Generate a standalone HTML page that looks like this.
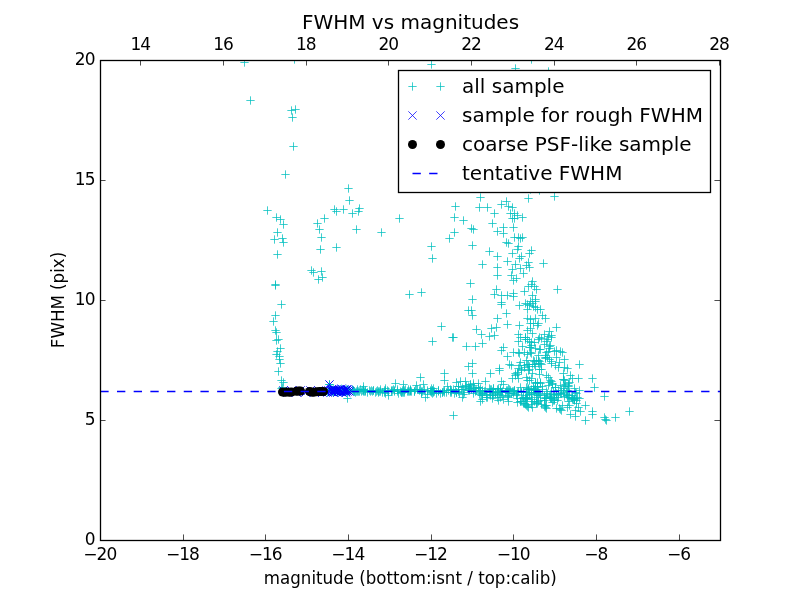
<!DOCTYPE html>
<html><head><meta charset="utf-8"><title>FWHM vs magnitudes</title>
<style>html,body{margin:0;padding:0;background:#fff;width:800px;height:600px;overflow:hidden}svg{display:block;will-change:transform}</style>
</head><body>
<svg width="800" height="600" viewBox="0 0 800 600"><rect x="0" y="0" width="800" height="600" fill="#fff"/><defs><clipPath id="ax"><rect x="100" y="60" width="620" height="480"/></clipPath></defs><g clip-path="url(#ax)"><path d="M240.34 62.50h8.33M244.50 58.34v8.33M290.33 59.50h8.33M294.50 55.34v8.33M246.34 100.50h8.33M250.50 96.33v8.33M287.33 110.50h8.33M291.50 106.33v8.33M291.33 109.50h8.33M295.50 105.33v8.33M288.33 117.50h8.33M292.50 113.33v8.33M289.33 146.50h8.33M293.50 142.34v8.33M281.33 174.50h8.33M285.50 170.34v8.33M344.33 188.50h8.33M348.50 184.34v8.33M345.33 200.50h8.33M349.50 196.34v8.33M427.33 64.50h8.33M431.50 60.34v8.33M263.33 210.50h8.33M267.50 206.34v8.33M272.33 217.50h8.33M276.50 213.34v8.33M276.33 219.50h8.33M280.50 215.34v8.33M279.33 224.50h8.33M283.50 220.34v8.33M273.33 232.50h8.33M277.50 228.34v8.33M270.33 239.50h8.33M274.50 235.34v8.33M278.33 238.50h8.33M282.50 234.34v8.33M279.33 242.50h8.33M283.50 238.34v8.33M273.33 254.50h8.33M277.50 250.34v8.33M313.33 223.50h8.33M317.50 219.34v8.33M320.33 218.50h8.33M324.50 214.34v8.33M315.33 229.50h8.33M319.50 225.34v8.33M317.33 237.50h8.33M321.50 233.34v8.33M316.33 249.50h8.33M320.50 245.34v8.33M330.33 209.50h8.33M334.50 205.34v8.33M332.33 211.50h8.33M336.50 207.34v8.33M332.33 247.50h8.33M336.50 243.34v8.33M339.33 209.50h8.33M343.50 205.34v8.33M348.33 213.50h8.33M352.50 209.34v8.33M355.33 208.50h8.33M359.50 204.34v8.33M354.33 211.50h8.33M358.50 207.34v8.33M352.33 229.50h8.33M356.50 225.34v8.33M377.33 232.50h8.33M381.50 228.34v8.33M395.33 218.50h8.33M399.50 214.34v8.33M307.33 270.50h8.33M311.50 266.33v8.33M309.33 272.50h8.33M313.50 268.33v8.33M317.33 271.50h8.33M321.50 267.33v8.33M318.33 277.50h8.33M322.50 273.33v8.33M314.33 279.50h8.33M318.50 275.33v8.33M271.33 284.50h8.33M275.50 280.33v8.33M271.33 285.50h8.33M275.50 281.33v8.33M277.33 304.50h8.33M281.50 300.33v8.33M271.33 315.50h8.33M275.50 311.33v8.33M269.33 321.50h8.33M273.50 317.33v8.33M271.33 330.50h8.33M275.50 326.33v8.33M272.33 332.50h8.33M276.50 328.33v8.33M511.33 68.50h8.33M515.50 64.33v8.33M527.34 59.50h8.33M531.50 55.34v8.33M525.34 74.50h8.33M529.50 70.33v8.33M544.34 71.50h8.33M548.50 67.33v8.33M428.33 341.50h8.33M432.50 337.33v8.33M416.33 377.50h8.33M420.50 373.33v8.33M391.33 383.50h8.33M395.50 379.33v8.33M399.33 384.50h8.33M403.50 380.33v8.33M412.33 385.50h8.33M416.50 381.33v8.33M419.33 384.50h8.33M423.50 380.33v8.33M359.33 386.50h8.33M363.50 382.33v8.33M343.33 398.50h8.33M347.50 394.33v8.33M384.33 395.50h8.33M388.50 391.33v8.33M421.33 397.50h8.33M425.50 393.33v8.33M325.33 384.50h8.33M329.50 380.33v8.33M274.33 339.50h8.33M278.50 335.33v8.33M272.33 340.50h8.33M276.50 336.33v8.33M276.33 348.50h8.33M280.50 344.33v8.33M273.33 351.50h8.33M277.50 347.33v8.33M272.33 354.50h8.33M276.50 350.33v8.33M275.33 356.50h8.33M279.50 352.33v8.33M275.33 359.50h8.33M279.50 355.33v8.33M276.33 363.50h8.33M280.50 359.33v8.33M274.33 371.50h8.33M278.50 367.33v8.33M277.33 380.50h8.33M281.50 376.33v8.33M279.33 382.50h8.33M283.50 378.33v8.33M278.33 387.50h8.33M282.50 383.33v8.33M277.33 388.50h8.33M281.50 384.33v8.33M476.33 197.50h8.33M480.50 193.34v8.33M524.34 198.50h8.33M528.50 194.34v8.33M526.34 189.50h8.33M530.50 185.34v8.33M451.33 206.50h8.33M455.50 202.34v8.33M475.33 207.50h8.33M479.50 203.34v8.33M483.33 207.50h8.33M487.50 203.34v8.33M497.33 204.50h8.33M501.50 200.34v8.33M502.33 201.50h8.33M506.50 197.34v8.33M504.33 206.50h8.33M508.50 202.34v8.33M508.33 207.50h8.33M512.50 203.34v8.33M490.33 213.50h8.33M494.50 209.34v8.33M506.33 213.50h8.33M510.50 209.34v8.33M510.33 213.50h8.33M514.50 209.34v8.33M513.34 215.50h8.33M517.50 211.34v8.33M508.33 218.50h8.33M512.50 214.34v8.33M510.33 218.50h8.33M514.50 214.34v8.33M518.34 217.50h8.33M522.50 213.34v8.33M450.33 217.50h8.33M454.50 213.34v8.33M459.33 220.50h8.33M463.50 216.34v8.33M488.33 223.50h8.33M492.50 219.34v8.33M467.33 228.50h8.33M471.50 224.34v8.33M469.33 229.50h8.33M473.50 225.34v8.33M499.33 227.50h8.33M503.50 223.34v8.33M509.33 227.50h8.33M513.50 223.34v8.33M450.33 232.50h8.33M454.50 228.34v8.33M493.33 231.50h8.33M497.50 227.34v8.33M499.33 233.50h8.33M503.50 229.34v8.33M445.33 238.50h8.33M449.50 234.34v8.33M510.33 237.50h8.33M514.50 233.34v8.33M514.34 237.50h8.33M518.50 233.34v8.33M516.34 238.50h8.33M520.50 234.34v8.33M518.34 237.50h8.33M522.50 233.34v8.33M502.33 242.50h8.33M506.50 238.34v8.33M504.33 243.50h8.33M508.50 239.34v8.33M514.34 246.50h8.33M518.50 242.34v8.33M468.33 245.50h8.33M472.50 241.34v8.33M485.33 251.50h8.33M489.50 247.34v8.33M493.33 256.50h8.33M497.50 252.34v8.33M508.33 253.50h8.33M512.50 249.34v8.33M513.34 249.50h8.33M517.50 245.34v8.33M527.34 250.50h8.33M531.50 246.34v8.33M525.34 253.50h8.33M529.50 249.34v8.33M517.34 256.50h8.33M521.50 252.34v8.33M550.34 196.50h8.33M554.50 192.34v8.33M535.34 190.50h8.33M539.50 186.34v8.33M515.34 258.50h8.33M519.50 254.34v8.33M478.33 264.50h8.33M482.50 260.33v8.33M503.33 261.50h8.33M507.50 257.33v8.33M493.33 267.50h8.33M497.50 263.33v8.33M493.33 275.50h8.33M497.50 271.33v8.33M511.33 264.50h8.33M515.50 260.33v8.33M508.33 269.50h8.33M512.50 265.33v8.33M524.34 262.50h8.33M528.50 258.33v8.33M522.34 265.50h8.33M526.50 261.33v8.33M525.34 267.50h8.33M529.50 263.33v8.33M516.34 268.50h8.33M520.50 264.33v8.33M519.34 273.50h8.33M523.50 269.33v8.33M507.33 275.50h8.33M511.50 271.33v8.33M512.34 278.50h8.33M516.50 274.33v8.33M509.33 280.50h8.33M513.50 276.33v8.33M466.33 283.50h8.33M470.50 279.33v8.33M492.33 289.50h8.33M496.50 285.33v8.33M490.33 294.50h8.33M494.50 290.33v8.33M497.33 295.50h8.33M501.50 291.33v8.33M503.33 295.50h8.33M507.50 291.33v8.33M509.33 293.50h8.33M513.50 289.33v8.33M509.33 296.50h8.33M513.50 292.33v8.33M528.34 281.50h8.33M532.50 277.33v8.33M524.34 286.50h8.33M528.50 282.33v8.33M532.34 289.50h8.33M536.50 285.33v8.33M520.34 291.50h8.33M524.50 287.33v8.33M528.34 295.50h8.33M532.50 291.33v8.33M468.33 299.50h8.33M472.50 295.33v8.33M497.33 302.50h8.33M501.50 298.33v8.33M497.33 304.50h8.33M501.50 300.33v8.33M515.34 305.50h8.33M519.50 301.33v8.33M521.34 303.50h8.33M525.50 299.33v8.33M528.34 303.50h8.33M532.50 299.33v8.33M525.34 305.50h8.33M529.50 301.33v8.33M531.34 307.50h8.33M535.50 303.33v8.33M531.34 299.50h8.33M535.50 295.33v8.33M523.34 309.50h8.33M527.50 305.33v8.33M464.33 310.50h8.33M468.50 306.33v8.33M467.33 310.50h8.33M471.50 306.33v8.33M468.33 315.50h8.33M472.50 311.33v8.33M502.33 313.50h8.33M506.50 309.33v8.33M493.33 318.50h8.33M497.50 314.33v8.33M503.33 324.50h8.33M507.50 320.33v8.33M515.34 325.50h8.33M519.50 321.33v8.33M437.33 326.50h8.33M441.50 322.33v8.33M472.33 329.50h8.33M476.50 325.33v8.33M487.33 328.50h8.33M491.50 324.33v8.33M492.33 327.50h8.33M496.50 323.33v8.33M539.34 263.50h8.33M543.50 259.33v8.33M553.34 289.50h8.33M557.50 285.33v8.33M527.34 284.50h8.33M531.50 280.33v8.33M530.34 286.50h8.33M534.50 282.33v8.33M531.34 301.50h8.33M535.50 297.33v8.33M529.34 306.50h8.33M533.50 302.33v8.33M536.34 309.50h8.33M540.50 305.33v8.33M538.34 315.50h8.33M542.50 311.33v8.33M523.34 318.50h8.33M527.50 314.33v8.33M541.34 318.50h8.33M545.50 314.33v8.33M526.34 319.50h8.33M530.50 315.33v8.33M531.34 318.50h8.33M535.50 314.33v8.33M526.34 323.50h8.33M530.50 319.33v8.33M529.34 323.50h8.33M533.50 319.33v8.33M534.34 323.50h8.33M538.50 319.33v8.33M533.34 325.50h8.33M537.50 321.33v8.33M523.34 330.50h8.33M527.50 326.33v8.33M526.34 328.50h8.33M530.50 324.33v8.33M528.34 333.50h8.33M532.50 329.33v8.33M552.34 327.50h8.33M556.50 323.33v8.33M545.34 331.50h8.33M549.50 327.33v8.33M547.34 335.50h8.33M551.50 331.33v8.33M540.34 334.50h8.33M544.50 330.33v8.33M535.34 337.50h8.33M539.50 333.33v8.33M537.34 338.50h8.33M541.50 334.33v8.33M534.34 339.50h8.33M538.50 335.33v8.33M521.34 337.50h8.33M525.50 333.33v8.33M514.34 334.50h8.33M518.50 330.33v8.33M523.34 304.50h8.33M527.50 300.33v8.33M526.34 301.50h8.33M530.50 297.33v8.33M533.34 309.50h8.33M537.50 305.33v8.33M547.34 337.50h8.33M551.50 333.33v8.33M544.34 336.50h8.33M548.50 332.33v8.33M542.34 341.50h8.33M546.50 337.33v8.33M546.34 345.50h8.33M550.50 341.33v8.33M552.34 350.50h8.33M556.50 346.33v8.33M558.34 352.50h8.33M562.50 348.33v8.33M550.34 351.50h8.33M554.50 347.33v8.33M544.34 351.50h8.33M548.50 347.33v8.33M542.34 352.50h8.33M546.50 348.33v8.33M530.34 342.50h8.33M534.50 338.33v8.33M527.34 342.50h8.33M531.50 338.33v8.33M527.34 345.50h8.33M531.50 341.33v8.33M536.34 349.50h8.33M540.50 345.33v8.33M531.34 348.50h8.33M535.50 344.33v8.33M575.34 364.50h8.33M579.50 360.33v8.33M588.34 378.50h8.33M592.50 374.33v8.33M590.34 387.50h8.33M594.50 383.33v8.33M574.34 378.50h8.33M578.50 374.33v8.33M555.34 362.50h8.33M559.50 358.33v8.33M563.34 368.50h8.33M567.50 364.33v8.33M568.34 378.50h8.33M572.50 374.33v8.33M564.34 386.50h8.33M568.50 382.33v8.33M554.34 367.50h8.33M558.50 363.33v8.33M559.34 373.50h8.33M563.50 369.33v8.33M490.33 335.50h8.33M494.50 331.33v8.33M516.34 337.50h8.33M520.50 333.33v8.33M521.34 337.50h8.33M525.50 333.33v8.33M521.34 339.50h8.33M525.50 335.33v8.33M514.34 341.50h8.33M518.50 337.33v8.33M518.34 346.50h8.33M522.50 342.33v8.33M499.33 347.50h8.33M503.50 343.33v8.33M497.33 350.50h8.33M501.50 346.33v8.33M509.33 352.50h8.33M513.50 348.33v8.33M515.34 353.50h8.33M519.50 349.33v8.33M523.34 354.50h8.33M527.50 350.33v8.33M503.33 356.50h8.33M507.50 352.33v8.33M525.34 341.50h8.33M529.50 337.33v8.33M525.34 347.50h8.33M529.50 343.33v8.33M522.34 360.50h8.33M526.50 356.33v8.33M516.34 362.50h8.33M520.50 358.33v8.33M505.33 364.50h8.33M509.50 360.33v8.33M507.33 365.50h8.33M511.50 361.33v8.33M495.33 368.50h8.33M499.50 364.33v8.33M495.33 370.50h8.33M499.50 366.33v8.33M520.34 367.50h8.33M524.50 363.33v8.33M486.33 373.50h8.33M490.50 369.33v8.33M511.33 373.50h8.33M515.50 369.33v8.33M511.33 375.50h8.33M515.50 371.33v8.33M524.34 364.50h8.33M528.50 360.33v8.33M524.34 370.50h8.33M528.50 366.33v8.33M508.33 378.50h8.33M512.50 374.33v8.33M514.34 378.50h8.33M518.50 374.33v8.33M497.33 381.50h8.33M501.50 377.33v8.33M448.33 337.50h8.33M452.50 333.33v8.33M449.33 337.50h8.33M453.50 333.33v8.33M477.33 334.50h8.33M481.50 330.33v8.33M485.33 336.50h8.33M489.50 332.33v8.33M478.33 343.50h8.33M482.50 339.33v8.33M462.33 346.50h8.33M466.50 342.33v8.33M471.33 346.50h8.33M475.50 342.33v8.33M468.33 363.50h8.33M472.50 359.33v8.33M464.33 366.50h8.33M468.50 362.33v8.33M468.33 373.50h8.33M472.50 369.33v8.33M440.33 373.50h8.33M444.50 369.33v8.33M440.33 380.50h8.33M444.50 376.33v8.33M469.33 383.50h8.33M473.50 379.33v8.33M461.33 381.50h8.33M465.50 377.33v8.33M481.33 381.50h8.33M485.50 377.33v8.33M452.33 382.50h8.33M456.50 378.33v8.33M456.33 381.50h8.33M460.50 377.33v8.33M458.33 397.50h8.33M462.50 393.33v8.33M476.33 401.50h8.33M480.50 397.33v8.33M600.34 396.50h8.33M604.50 392.33v8.33M581.34 405.50h8.33M585.50 401.33v8.33M588.34 411.50h8.33M592.50 407.33v8.33M588.34 414.50h8.33M592.50 410.33v8.33M625.34 411.50h8.33M629.50 407.33v8.33M611.34 417.50h8.33M615.50 413.33v8.33M600.34 417.50h8.33M604.50 413.33v8.33M602.34 420.50h8.33M606.50 416.33v8.33M601.34 419.50h8.33M605.50 415.33v8.33M581.34 420.50h8.33M585.50 416.33v8.33M571.34 416.50h8.33M575.50 412.33v8.33M576.34 411.50h8.33M580.50 407.33v8.33M566.34 414.50h8.33M570.50 410.33v8.33M571.34 410.50h8.33M575.50 406.33v8.33M574.34 407.50h8.33M578.50 403.33v8.33M449.33 415.50h8.33M453.50 411.33v8.33M536.34 363.50h8.33M540.50 359.33v8.33M535.34 361.50h8.33M539.50 357.33v8.33M537.34 364.50h8.33M541.50 360.33v8.33M541.34 355.50h8.33M545.50 351.33v8.33M543.34 357.50h8.33M547.50 353.33v8.33M545.34 359.50h8.33M549.50 355.33v8.33M547.34 361.50h8.33M551.50 357.33v8.33M544.34 377.50h8.33M548.50 373.33v8.33M542.34 375.50h8.33M546.50 371.33v8.33M546.34 380.50h8.33M550.50 376.33v8.33M548.34 383.50h8.33M552.50 379.33v8.33M535.34 374.50h8.33M539.50 370.33v8.33M528.34 373.50h8.33M532.50 369.33v8.33M522.34 377.50h8.33M526.50 373.33v8.33M517.34 370.50h8.33M521.50 366.33v8.33M513.34 374.50h8.33M517.50 370.33v8.33M535.34 369.50h8.33M539.50 365.33v8.33M529.34 360.50h8.33M533.50 356.33v8.33M526.34 347.50h8.33M530.50 343.33v8.33M535.34 349.50h8.33M539.50 345.33v8.33M545.34 346.50h8.33M549.50 342.33v8.33M534.34 355.50h8.33M538.50 351.33v8.33M427.33 246.50h8.33M431.50 242.34v8.33M428.33 258.50h8.33M432.50 254.34v8.33M405.33 294.50h8.33M409.50 290.33v8.33M417.33 292.50h8.33M421.50 288.33v8.33M568.34 398.50h8.33M572.50 394.33v8.33M569.34 399.50h8.33M573.50 395.33v8.33M570.34 400.50h8.33M574.50 396.33v8.33M567.34 397.50h8.33M571.50 393.33v8.33M494.33 400.50h8.33M498.50 396.33v8.33M504.33 401.50h8.33M508.50 397.33v8.33M513.34 402.50h8.33M517.50 398.33v8.33M482.33 397.50h8.33M486.50 393.33v8.33M488.33 398.50h8.33M492.50 394.33v8.33M499.33 399.50h8.33M503.50 395.33v8.33M522.34 405.50h8.33M526.50 401.33v8.33M523.34 406.50h8.33M527.50 402.33v8.33M524.34 407.50h8.33M528.50 403.33v8.33M540.34 406.50h8.33M544.50 402.33v8.33M541.34 407.50h8.33M545.50 403.33v8.33M542.34 408.50h8.33M546.50 404.33v8.33M555.34 408.50h8.33M559.50 404.33v8.33M556.34 409.50h8.33M560.50 405.33v8.33M557.34 410.50h8.33M561.50 406.33v8.33M363.33 392.50h8.33M367.50 388.33v8.33M351.33 392.50h8.33M355.50 388.33v8.33M373.33 390.50h8.33M377.50 386.33v8.33M372.33 391.50h8.33M376.50 387.33v8.33M349.33 390.50h8.33M353.50 386.33v8.33M352.33 391.50h8.33M356.50 387.33v8.33M368.33 391.50h8.33M372.50 387.33v8.33M358.33 390.50h8.33M362.50 386.33v8.33M378.33 392.50h8.33M382.50 388.33v8.33M367.33 390.50h8.33M371.50 386.33v8.33M394.33 393.50h8.33M398.50 389.33v8.33M361.33 391.50h8.33M365.50 387.33v8.33M354.33 391.50h8.33M358.50 387.33v8.33M387.33 391.50h8.33M391.50 387.33v8.33M356.33 389.50h8.33M360.50 385.33v8.33M365.33 390.50h8.33M369.50 386.33v8.33M374.33 391.50h8.33M378.50 387.33v8.33M357.33 391.50h8.33M361.50 387.33v8.33M380.33 390.50h8.33M384.50 386.33v8.33M376.33 391.50h8.33M380.50 387.33v8.33M369.33 390.50h8.33M373.50 386.33v8.33M381.33 393.50h8.33M385.50 389.33v8.33M359.33 389.50h8.33M363.50 385.33v8.33M390.33 390.50h8.33M394.50 386.33v8.33M383.33 390.50h8.33M387.50 386.33v8.33M353.33 389.50h8.33M357.50 385.33v8.33M355.33 391.50h8.33M359.50 387.33v8.33M371.33 392.50h8.33M375.50 388.33v8.33M384.33 391.50h8.33M388.50 387.33v8.33M375.33 391.50h8.33M379.50 387.33v8.33M381.33 390.50h8.33M385.50 386.33v8.33M376.33 389.50h8.33M380.50 385.33v8.33M388.33 390.50h8.33M392.50 386.33v8.33M393.33 389.50h8.33M397.50 385.33v8.33M350.33 391.50h8.33M354.50 387.33v8.33M381.33 388.50h8.33M385.50 384.33v8.33M387.33 390.50h8.33M391.50 386.33v8.33M380.33 392.50h8.33M384.50 388.33v8.33M349.33 390.50h8.33M353.50 386.33v8.33M353.33 391.50h8.33M357.50 387.33v8.33M350.33 391.50h8.33M354.50 387.33v8.33M359.33 390.50h8.33M363.50 386.33v8.33M366.33 391.50h8.33M370.50 387.33v8.33M369.33 390.50h8.33M373.50 386.33v8.33M374.33 392.50h8.33M378.50 388.33v8.33M389.33 389.50h8.33M393.50 385.33v8.33M361.33 390.50h8.33M365.50 386.33v8.33M390.33 391.50h8.33M394.50 387.33v8.33M393.33 391.50h8.33M397.50 387.33v8.33M359.33 391.50h8.33M363.50 387.33v8.33M359.33 389.50h8.33M363.50 385.33v8.33M360.33 391.50h8.33M364.50 387.33v8.33M348.33 389.50h8.33M352.50 385.33v8.33M418.33 391.50h8.33M422.50 387.33v8.33M434.33 390.50h8.33M438.50 386.33v8.33M420.33 389.50h8.33M424.50 385.33v8.33M423.33 394.50h8.33M427.50 390.33v8.33M427.33 392.50h8.33M431.50 388.33v8.33M430.33 391.50h8.33M434.50 387.33v8.33M411.33 389.50h8.33M415.50 385.33v8.33M400.33 390.50h8.33M404.50 386.33v8.33M398.33 390.50h8.33M402.50 386.33v8.33M404.33 391.50h8.33M408.50 387.33v8.33M398.33 392.50h8.33M402.50 388.33v8.33M396.33 391.50h8.33M400.50 387.33v8.33M410.33 391.50h8.33M414.50 387.33v8.33M397.33 392.50h8.33M401.50 388.33v8.33M401.33 389.50h8.33M405.50 385.33v8.33M406.33 390.50h8.33M410.50 386.33v8.33M400.33 392.50h8.33M404.50 388.33v8.33M429.33 392.50h8.33M433.50 388.33v8.33M415.33 390.50h8.33M419.50 386.33v8.33M399.33 392.50h8.33M403.50 388.33v8.33M406.33 391.50h8.33M410.50 387.33v8.33M429.33 391.50h8.33M433.50 387.33v8.33M434.33 391.50h8.33M438.50 387.33v8.33M417.33 392.50h8.33M421.50 388.33v8.33M397.33 392.50h8.33M401.50 388.33v8.33M417.33 393.50h8.33M421.50 389.33v8.33M423.33 390.50h8.33M427.50 386.33v8.33M406.33 390.50h8.33M410.50 386.33v8.33M426.33 391.50h8.33M430.50 387.33v8.33M417.33 391.50h8.33M421.50 387.33v8.33M404.33 389.50h8.33M408.50 385.33v8.33M428.33 393.50h8.33M432.50 389.33v8.33M428.33 390.50h8.33M432.50 386.33v8.33M428.33 390.50h8.33M432.50 386.33v8.33M416.33 389.50h8.33M420.50 385.33v8.33M410.33 391.50h8.33M414.50 387.33v8.33M407.33 391.50h8.33M411.50 387.33v8.33M406.33 389.50h8.33M410.50 385.33v8.33M413.33 389.50h8.33M417.50 385.33v8.33M434.33 390.50h8.33M438.50 386.33v8.33M405.33 391.50h8.33M409.50 387.33v8.33M403.33 391.50h8.33M407.50 387.33v8.33M432.33 393.50h8.33M436.50 389.33v8.33M429.33 388.50h8.33M433.50 384.33v8.33M427.33 391.50h8.33M431.50 387.33v8.33M399.33 389.50h8.33M403.50 385.33v8.33M427.33 388.50h8.33M431.50 384.33v8.33M426.33 390.50h8.33M430.50 386.33v8.33M451.33 390.50h8.33M455.50 386.33v8.33M442.33 392.50h8.33M446.50 388.33v8.33M443.33 386.50h8.33M447.50 382.33v8.33M450.33 393.50h8.33M454.50 389.33v8.33M439.33 391.50h8.33M443.50 387.33v8.33M454.33 391.50h8.33M458.50 387.33v8.33M452.33 392.50h8.33M456.50 388.33v8.33M455.33 393.50h8.33M459.50 389.33v8.33M449.33 389.50h8.33M453.50 385.33v8.33M438.33 392.50h8.33M442.50 388.33v8.33M436.33 393.50h8.33M440.50 389.33v8.33M446.33 389.50h8.33M450.50 385.33v8.33M454.33 386.50h8.33M458.50 382.33v8.33M452.33 392.50h8.33M456.50 388.33v8.33M440.33 390.50h8.33M444.50 386.33v8.33M440.33 392.50h8.33M444.50 388.33v8.33M447.33 390.50h8.33M451.50 386.33v8.33M438.33 392.50h8.33M442.50 388.33v8.33M454.33 389.50h8.33M458.50 385.33v8.33M447.33 392.50h8.33M451.50 388.33v8.33M454.33 386.50h8.33M458.50 382.33v8.33M446.33 392.50h8.33M450.50 388.33v8.33M446.33 390.50h8.33M450.50 386.33v8.33M444.33 390.50h8.33M448.50 386.33v8.33M459.33 394.50h8.33M463.50 390.33v8.33M459.33 389.50h8.33M463.50 385.33v8.33M465.33 388.50h8.33M469.50 384.33v8.33M462.33 385.50h8.33M466.50 381.33v8.33M466.33 384.50h8.33M470.50 380.33v8.33M458.33 387.50h8.33M462.50 383.33v8.33M467.33 389.50h8.33M471.50 385.33v8.33M471.33 391.50h8.33M475.50 387.33v8.33M466.33 384.50h8.33M470.50 380.33v8.33M474.33 387.50h8.33M478.50 383.33v8.33M464.33 386.50h8.33M468.50 382.33v8.33M466.33 387.50h8.33M470.50 383.33v8.33M469.33 385.50h8.33M473.50 381.33v8.33M465.33 390.50h8.33M469.50 386.33v8.33M474.33 387.50h8.33M478.50 383.33v8.33M474.33 383.50h8.33M478.50 379.33v8.33M461.33 386.50h8.33M465.50 382.33v8.33M472.33 390.50h8.33M476.50 386.33v8.33M464.33 390.50h8.33M468.50 386.33v8.33M457.33 389.50h8.33M461.50 385.33v8.33M469.33 390.50h8.33M473.50 386.33v8.33M471.33 390.50h8.33M475.50 386.33v8.33M470.33 388.50h8.33M474.50 384.33v8.33M469.33 393.50h8.33M473.50 389.33v8.33M475.33 394.50h8.33M479.50 390.33v8.33M460.33 392.50h8.33M464.50 388.33v8.33M465.33 388.50h8.33M469.50 384.33v8.33M475.33 390.50h8.33M479.50 386.33v8.33M493.33 389.50h8.33M497.50 385.33v8.33M496.33 390.50h8.33M500.50 386.33v8.33M488.33 394.50h8.33M492.50 390.33v8.33M504.33 397.50h8.33M508.50 393.33v8.33M493.33 392.50h8.33M497.50 388.33v8.33M476.33 388.50h8.33M480.50 384.33v8.33M496.33 397.50h8.33M500.50 393.33v8.33M478.33 399.50h8.33M482.50 395.33v8.33M514.34 391.50h8.33M518.50 387.33v8.33M480.33 391.50h8.33M484.50 387.33v8.33M507.33 393.50h8.33M511.50 389.33v8.33M486.33 395.50h8.33M490.50 391.33v8.33M512.34 395.50h8.33M516.50 391.33v8.33M508.33 391.50h8.33M512.50 387.33v8.33M512.34 394.50h8.33M516.50 390.33v8.33M498.33 391.50h8.33M502.50 387.33v8.33M478.33 390.50h8.33M482.50 386.33v8.33M503.33 390.50h8.33M507.50 386.33v8.33M513.34 392.50h8.33M517.50 388.33v8.33M501.33 392.50h8.33M505.50 388.33v8.33M510.33 390.50h8.33M514.50 386.33v8.33M478.33 395.50h8.33M482.50 391.33v8.33M489.33 388.50h8.33M493.50 384.33v8.33M498.33 395.50h8.33M502.50 391.33v8.33M481.33 390.50h8.33M485.50 386.33v8.33M497.33 392.50h8.33M501.50 388.33v8.33M482.33 394.50h8.33M486.50 390.33v8.33M478.33 393.50h8.33M482.50 389.33v8.33M488.33 395.50h8.33M492.50 391.33v8.33M506.33 390.50h8.33M510.50 386.33v8.33M483.33 397.50h8.33M487.50 393.33v8.33M489.33 395.50h8.33M493.50 391.33v8.33M476.33 392.50h8.33M480.50 388.33v8.33M505.33 389.50h8.33M509.50 385.33v8.33M494.33 391.50h8.33M498.50 387.33v8.33M513.34 398.50h8.33M517.50 394.33v8.33M493.33 397.50h8.33M497.50 393.33v8.33M495.33 394.50h8.33M499.50 390.33v8.33M496.33 388.50h8.33M500.50 384.33v8.33M503.33 396.50h8.33M507.50 392.33v8.33M509.33 391.50h8.33M513.50 387.33v8.33M504.33 388.50h8.33M508.50 384.33v8.33M489.33 388.50h8.33M493.50 384.33v8.33M478.33 393.50h8.33M482.50 389.33v8.33M505.33 393.50h8.33M509.50 389.33v8.33M486.33 392.50h8.33M490.50 388.33v8.33M509.33 393.50h8.33M513.50 389.33v8.33M510.33 390.50h8.33M514.50 386.33v8.33M485.33 388.50h8.33M489.50 384.33v8.33M487.33 389.50h8.33M491.50 385.33v8.33M493.33 392.50h8.33M497.50 388.33v8.33M486.33 389.50h8.33M490.50 385.33v8.33M497.33 392.50h8.33M501.50 388.33v8.33M488.33 391.50h8.33M492.50 387.33v8.33M491.33 392.50h8.33M495.50 388.33v8.33M494.33 388.50h8.33M498.50 384.33v8.33M496.33 391.50h8.33M500.50 387.33v8.33M476.33 391.50h8.33M480.50 387.33v8.33M491.33 393.50h8.33M495.50 389.33v8.33M477.33 395.50h8.33M481.50 391.33v8.33M485.33 392.50h8.33M489.50 388.33v8.33M499.33 384.50h8.33M503.50 380.33v8.33M502.33 390.50h8.33M506.50 386.33v8.33M504.33 395.50h8.33M508.50 391.33v8.33M524.34 389.50h8.33M528.50 385.33v8.33M540.34 400.50h8.33M544.50 396.33v8.33M532.34 402.50h8.33M536.50 398.33v8.33M517.34 401.50h8.33M521.50 397.33v8.33M531.34 382.50h8.33M535.50 378.33v8.33M534.34 395.50h8.33M538.50 391.33v8.33M529.34 390.50h8.33M533.50 386.33v8.33M528.34 399.50h8.33M532.50 395.33v8.33M536.34 383.50h8.33M540.50 379.33v8.33M530.34 401.50h8.33M534.50 397.33v8.33M533.34 387.50h8.33M537.50 383.33v8.33M521.34 397.50h8.33M525.50 393.33v8.33M525.34 394.50h8.33M529.50 390.33v8.33M518.34 398.50h8.33M522.50 394.33v8.33M531.34 386.50h8.33M535.50 382.33v8.33M531.34 390.50h8.33M535.50 386.33v8.33M516.34 387.50h8.33M520.50 383.33v8.33M535.34 393.50h8.33M539.50 389.33v8.33M529.34 386.50h8.33M533.50 382.33v8.33M532.34 403.50h8.33M536.50 399.33v8.33M522.34 398.50h8.33M526.50 394.33v8.33M517.34 392.50h8.33M521.50 388.33v8.33M521.34 404.50h8.33M525.50 400.33v8.33M534.34 401.50h8.33M538.50 397.33v8.33M525.34 392.50h8.33M529.50 388.33v8.33M527.34 389.50h8.33M531.50 385.33v8.33M531.34 383.50h8.33M535.50 379.33v8.33M532.34 397.50h8.33M536.50 393.33v8.33M522.34 395.50h8.33M526.50 391.33v8.33M534.34 391.50h8.33M538.50 387.33v8.33M516.34 401.50h8.33M520.50 397.33v8.33M517.34 392.50h8.33M521.50 388.33v8.33M533.34 403.50h8.33M537.50 399.33v8.33M532.34 392.50h8.33M536.50 388.33v8.33M527.34 401.50h8.33M531.50 397.33v8.33M527.34 404.50h8.33M531.50 400.33v8.33M520.34 403.50h8.33M524.50 399.33v8.33M540.34 395.50h8.33M544.50 391.33v8.33M527.34 393.50h8.33M531.50 389.33v8.33M536.34 400.50h8.33M540.50 396.33v8.33M522.34 392.50h8.33M526.50 388.33v8.33M521.34 398.50h8.33M525.50 394.33v8.33M530.34 392.50h8.33M534.50 388.33v8.33M519.34 391.50h8.33M523.50 387.33v8.33M519.34 397.50h8.33M523.50 393.33v8.33M538.34 386.50h8.33M542.50 382.33v8.33M533.34 395.50h8.33M537.50 391.33v8.33M528.34 407.50h8.33M532.50 403.33v8.33M516.34 401.50h8.33M520.50 397.33v8.33M527.34 394.50h8.33M531.50 390.33v8.33M523.34 397.50h8.33M527.50 393.33v8.33M523.34 398.50h8.33M527.50 394.33v8.33M537.34 404.50h8.33M541.50 400.33v8.33M536.34 394.50h8.33M540.50 390.33v8.33M519.34 403.50h8.33M523.50 399.33v8.33M538.34 389.50h8.33M542.50 385.33v8.33M523.34 389.50h8.33M527.50 385.33v8.33M540.34 398.50h8.33M544.50 394.33v8.33M530.34 389.50h8.33M534.50 385.33v8.33M522.34 399.50h8.33M526.50 395.33v8.33M542.34 405.50h8.33M546.50 401.33v8.33M548.34 402.50h8.33M552.50 398.33v8.33M564.34 395.50h8.33M568.50 391.33v8.33M553.34 400.50h8.33M557.50 396.33v8.33M545.34 382.50h8.33M549.50 378.33v8.33M563.34 407.50h8.33M567.50 403.33v8.33M561.34 384.50h8.33M565.50 380.33v8.33M564.34 383.50h8.33M568.50 379.33v8.33M554.34 394.50h8.33M558.50 390.33v8.33M559.34 392.50h8.33M563.50 388.33v8.33M552.34 395.50h8.33M556.50 391.33v8.33M548.34 384.50h8.33M552.50 380.33v8.33M542.34 398.50h8.33M546.50 394.33v8.33M552.34 393.50h8.33M556.50 389.33v8.33M549.34 391.50h8.33M553.50 387.33v8.33M565.34 405.50h8.33M569.50 401.33v8.33M547.34 391.50h8.33M551.50 387.33v8.33M554.34 390.50h8.33M558.50 386.33v8.33M550.34 397.50h8.33M554.50 393.33v8.33M546.34 398.50h8.33M550.50 394.33v8.33M563.34 390.50h8.33M567.50 386.33v8.33M563.34 395.50h8.33M567.50 391.33v8.33M565.34 391.50h8.33M569.50 387.33v8.33M545.34 396.50h8.33M549.50 392.33v8.33M543.34 393.50h8.33M547.50 389.33v8.33M546.34 397.50h8.33M550.50 393.33v8.33M547.34 381.50h8.33M551.50 377.33v8.33M559.34 388.50h8.33M563.50 384.33v8.33M551.34 387.50h8.33M555.50 383.33v8.33M550.34 399.50h8.33M554.50 395.33v8.33M549.34 400.50h8.33M553.50 396.33v8.33M565.34 397.50h8.33M569.50 393.33v8.33M544.34 385.50h8.33M548.50 381.33v8.33M562.34 394.50h8.33M566.50 390.33v8.33M546.34 394.50h8.33M550.50 390.33v8.33M550.34 400.50h8.33M554.50 396.33v8.33M552.34 408.50h8.33M556.50 404.33v8.33M562.34 391.50h8.33M566.50 387.33v8.33M541.34 405.50h8.33M545.50 401.33v8.33M563.34 397.50h8.33M567.50 393.33v8.33M552.34 394.50h8.33M556.50 390.33v8.33M550.34 394.50h8.33M554.50 390.33v8.33M564.34 401.50h8.33M568.50 397.33v8.33M565.34 382.50h8.33M569.50 378.33v8.33M547.34 398.50h8.33M551.50 394.33v8.33M554.34 397.50h8.33M558.50 393.33v8.33M558.34 405.50h8.33M562.50 401.33v8.33M557.34 390.50h8.33M561.50 386.33v8.33M560.34 386.50h8.33M564.50 382.33v8.33M541.34 397.50h8.33M545.50 393.33v8.33M560.34 396.50h8.33M564.50 392.33v8.33M557.34 393.50h8.33M561.50 389.33v8.33M547.34 398.50h8.33M551.50 394.33v8.33M556.34 393.50h8.33M560.50 389.33v8.33M542.34 391.50h8.33M546.50 387.33v8.33M571.34 392.50h8.33M575.50 388.33v8.33M568.34 395.50h8.33M572.50 391.33v8.33M572.34 403.50h8.33M576.50 399.33v8.33M570.34 398.50h8.33M574.50 394.33v8.33M575.34 390.50h8.33M579.50 386.33v8.33M570.34 388.50h8.33M574.50 384.33v8.33M568.34 398.50h8.33M572.50 394.33v8.33M573.34 397.50h8.33M577.50 393.33v8.33M570.34 399.50h8.33M574.50 395.33v8.33M572.34 393.50h8.33M576.50 389.33v8.33M572.34 400.50h8.33M576.50 396.33v8.33M575.34 398.50h8.33M579.50 394.33v8.33M531.34 366.50h8.33M535.50 362.33v8.33M552.34 357.50h8.33M556.50 353.33v8.33M559.34 379.50h8.33M563.50 375.33v8.33M541.34 358.50h8.33M545.50 354.33v8.33M560.34 359.50h8.33M564.50 355.33v8.33M525.34 380.50h8.33M529.50 376.33v8.33M529.34 388.50h8.33M533.50 384.33v8.33M541.34 357.50h8.33M545.50 353.33v8.33M525.34 366.50h8.33M529.50 362.33v8.33M551.34 387.50h8.33M555.50 383.33v8.33M520.34 365.50h8.33M524.50 361.33v8.33M524.34 388.50h8.33M528.50 384.33v8.33M520.34 352.50h8.33M524.50 348.33v8.33M515.34 365.50h8.33M519.50 361.33v8.33M564.34 385.50h8.33M568.50 381.33v8.33M522.34 387.50h8.33M526.50 383.33v8.33M556.34 351.50h8.33M560.50 347.33v8.33M551.34 365.50h8.33M555.50 361.33v8.33M534.34 363.50h8.33M538.50 359.33v8.33M528.34 364.50h8.33M532.50 360.33v8.33M533.34 382.50h8.33M537.50 378.33v8.33M560.34 367.50h8.33M564.50 363.33v8.33M514.34 368.50h8.33M518.50 364.33v8.33M533.34 386.50h8.33M537.50 382.33v8.33M523.34 364.50h8.33M527.50 360.33v8.33M536.34 382.50h8.33M540.50 378.33v8.33M514.34 352.50h8.33M518.50 348.33v8.33M556.34 385.50h8.33M560.50 381.33v8.33M532.34 360.50h8.33M536.50 356.33v8.33M527.34 378.50h8.33M531.50 374.33v8.33M530.34 361.50h8.33M534.50 357.33v8.33M566.34 375.50h8.33M570.50 371.33v8.33M525.34 369.50h8.33M529.50 365.33v8.33M534.34 360.50h8.33M538.50 356.33v8.33M537.34 369.50h8.33M541.50 365.33v8.33M559.34 379.50h8.33M563.50 375.33v8.33M560.34 380.50h8.33M564.50 376.33v8.33M547.34 363.50h8.33M551.50 359.33v8.33M530.34 364.50h8.33M534.50 360.33v8.33M523.34 380.50h8.33M527.50 376.33v8.33M526.34 352.50h8.33M530.50 348.33v8.33M513.34 372.50h8.33M517.50 368.33v8.33M531.34 389.50h8.33M535.50 385.33v8.33M527.34 353.50h8.33M531.50 349.33v8.33M517.34 369.50h8.33M521.50 365.33v8.33M543.34 339.50h8.33M547.50 335.33v8.33M523.34 339.50h8.33M527.50 335.33v8.33M540.34 344.50h8.33M544.50 340.33v8.33M545.34 348.50h8.33M549.50 344.33v8.33M325.33 384.50h8.33M329.50 380.33v8.33M326.33 390.50h8.33M330.50 386.33v8.33M328.33 391.50h8.33M332.50 387.33v8.33M329.33 389.50h8.33M333.50 385.33v8.33M331.33 391.50h8.33M335.50 387.33v8.33M332.33 390.50h8.33M336.50 386.33v8.33M334.33 391.50h8.33M338.50 387.33v8.33M335.33 389.50h8.33M339.50 385.33v8.33M337.33 390.50h8.33M341.50 386.33v8.33M338.33 392.50h8.33M342.50 388.33v8.33M339.33 390.50h8.33M343.50 386.33v8.33M341.33 391.50h8.33M345.50 387.33v8.33M342.33 389.50h8.33M346.50 385.33v8.33M343.33 391.50h8.33M347.50 387.33v8.33M344.33 390.50h8.33M348.50 386.33v8.33M327.33 389.50h8.33M331.50 385.33v8.33M330.33 390.50h8.33M334.50 386.33v8.33M333.33 392.50h8.33M337.50 388.33v8.33M336.33 391.50h8.33M340.50 387.33v8.33M340.33 389.50h8.33M344.50 385.33v8.33M343.33 389.50h8.33M347.50 385.33v8.33M345.33 391.50h8.33M349.50 387.33v8.33M329.33 392.50h8.33M333.50 388.33v8.33M335.33 390.50h8.33M339.50 386.33v8.33M333.53 390.90h8.33M337.70 386.73v8.33M341.13 390.50h8.33M345.30 386.33v8.33M334.44 391.00h8.33M338.60 386.83v8.33M329.33 390.70h8.33M333.50 386.53v8.33M336.44 391.90h8.33M340.60 387.73v8.33M327.83 389.80h8.33M332.00 385.63v8.33M327.83 392.00h8.33M332.00 387.83v8.33M337.44 388.70h8.33M341.60 384.53v8.33M342.03 392.60h8.33M346.20 388.44v8.33M324.33 390.50h8.33M328.50 386.33v8.33M323.33 392.50h8.33M327.50 388.33v8.33" stroke="#00bfbf" stroke-width="0.75" fill="none"/><path d="M279.33 386.33l8.33 8.33M279.33 394.67l8.33 -8.33M283.33 388.33l8.33 8.33M283.33 396.67l8.33 -8.33M287.33 386.33l8.33 8.33M287.33 394.67l8.33 -8.33M292.33 388.33l8.33 8.33M292.33 396.67l8.33 -8.33M296.33 386.33l8.33 8.33M296.33 394.67l8.33 -8.33M300.33 387.33l8.33 8.33M300.33 395.67l8.33 -8.33M301.33 388.33l8.33 8.33M301.33 396.67l8.33 -8.33M306.33 386.33l8.33 8.33M306.33 394.67l8.33 -8.33M310.33 388.33l8.33 8.33M310.33 396.67l8.33 -8.33M314.33 386.33l8.33 8.33M314.33 394.67l8.33 -8.33M318.33 388.33l8.33 8.33M318.33 396.67l8.33 -8.33M321.33 387.33l8.33 8.33M321.33 395.67l8.33 -8.33M325.33 380.33l8.33 8.33M325.33 388.67l8.33 -8.33M326.33 386.33l8.33 8.33M326.33 394.67l8.33 -8.33M328.33 387.33l8.33 8.33M328.33 395.67l8.33 -8.33M329.33 385.33l8.33 8.33M329.33 393.67l8.33 -8.33M331.33 387.33l8.33 8.33M331.33 395.67l8.33 -8.33M332.33 386.33l8.33 8.33M332.33 394.67l8.33 -8.33M334.33 387.33l8.33 8.33M334.33 395.67l8.33 -8.33M335.33 385.33l8.33 8.33M335.33 393.67l8.33 -8.33M337.33 386.33l8.33 8.33M337.33 394.67l8.33 -8.33M338.33 388.33l8.33 8.33M338.33 396.67l8.33 -8.33M339.33 386.33l8.33 8.33M339.33 394.67l8.33 -8.33M341.33 387.33l8.33 8.33M341.33 395.67l8.33 -8.33M342.33 385.33l8.33 8.33M342.33 393.67l8.33 -8.33M343.33 387.33l8.33 8.33M343.33 395.67l8.33 -8.33M344.33 386.33l8.33 8.33M344.33 394.67l8.33 -8.33M327.33 385.33l8.33 8.33M327.33 393.67l8.33 -8.33M330.33 386.33l8.33 8.33M330.33 394.67l8.33 -8.33M333.33 388.33l8.33 8.33M333.33 396.67l8.33 -8.33M336.33 387.33l8.33 8.33M336.33 395.67l8.33 -8.33M340.33 385.33l8.33 8.33M340.33 393.67l8.33 -8.33M343.33 385.33l8.33 8.33M343.33 393.67l8.33 -8.33M345.33 387.33l8.33 8.33M345.33 395.67l8.33 -8.33M329.33 388.33l8.33 8.33M329.33 396.67l8.33 -8.33M335.33 386.33l8.33 8.33M335.33 394.67l8.33 -8.33M333.53 386.73l8.33 8.33M333.53 395.06l8.33 -8.33M341.13 386.33l8.33 8.33M341.13 394.67l8.33 -8.33M334.44 386.83l8.33 8.33M334.44 395.17l8.33 -8.33M329.33 386.53l8.33 8.33M329.33 394.87l8.33 -8.33M336.44 387.73l8.33 8.33M336.44 396.06l8.33 -8.33M327.83 385.63l8.33 8.33M327.83 393.97l8.33 -8.33M327.83 387.83l8.33 8.33M327.83 396.17l8.33 -8.33M337.44 384.53l8.33 8.33M337.44 392.87l8.33 -8.33M342.03 388.44l8.33 8.33M342.03 396.77l8.33 -8.33M324.33 386.33l8.33 8.33M324.33 394.67l8.33 -8.33M323.33 388.33l8.33 8.33M323.33 396.67l8.33 -8.33" stroke="#0000ff" stroke-width="0.9" fill="none"/><circle cx="282.50" cy="392.00" r="4.5" fill="#000"/><circle cx="284.50" cy="392.30" r="4.5" fill="#000"/><circle cx="286.50" cy="392.00" r="4.5" fill="#000"/><circle cx="289.50" cy="392.20" r="4.5" fill="#000"/><circle cx="291.50" cy="392.00" r="4.5" fill="#000"/><circle cx="296.50" cy="391.20" r="4.5" fill="#000"/><circle cx="298.50" cy="391.00" r="4.5" fill="#000"/><circle cx="300.50" cy="391.00" r="4.5" fill="#000"/><circle cx="309.50" cy="391.50" r="4.5" fill="#000"/><circle cx="311.50" cy="392.00" r="4.5" fill="#000"/><circle cx="313.50" cy="392.20" r="4.5" fill="#000"/><circle cx="316.50" cy="391.80" r="4.5" fill="#000"/><circle cx="319.50" cy="391.50" r="4.5" fill="#000"/><circle cx="321.50" cy="391.50" r="4.5" fill="#000"/><circle cx="323.50" cy="391.50" r="4.5" fill="#000"/><line x1="100" y1="391.5" x2="720" y2="391.5" stroke="#0000ff" stroke-width="1.39" stroke-dasharray="8.34 8.35" stroke-dashoffset="-0.3"/></g><rect x="100.5" y="60.5" width="620" height="480" fill="none" stroke="#000" stroke-width="1.3"/><path d="M100.5 540v-5.56M183.5 540v-5.56M265.5 540v-5.56M348.5 540v-5.56M431.5 540v-5.56M513.5 540v-5.56M596.5 540v-5.56M679.5 540v-5.56M140.5 60v5.56M223.5 60v5.56M306.5 60v5.56M388.5 60v5.56M471.5 60v5.56M554.5 60v5.56M636.5 60v5.56M719.5 60v5.56M100 540.5h5.56M720 540.5h-5.56M100 420.5h5.56M720 420.5h-5.56M100 300.5h5.56M720 300.5h-5.56M100 180.5h5.56M720 180.5h-5.56M100 60.5h5.56M720 60.5h-5.56" stroke="#000" stroke-width="0.7" fill="none"/><g font-family="'DejaVu Sans', 'Liberation Sans', sans-serif" font-size="17px" letter-spacing="-1px" fill="#000"><text x="99.80" y="560" text-anchor="middle">−20</text><text x="182.47" y="560" text-anchor="middle">−18</text><text x="265.13" y="560" text-anchor="middle">−16</text><text x="347.80" y="560" text-anchor="middle">−14</text><text x="430.47" y="560" text-anchor="middle">−12</text><text x="513.13" y="560" text-anchor="middle">−10</text><text x="595.80" y="560" text-anchor="middle">−8</text><text x="678.47" y="560" text-anchor="middle">−6</text><text x="140.38" y="49.7" text-anchor="middle">14</text><text x="223.05" y="49.7" text-anchor="middle">16</text><text x="305.72" y="49.7" text-anchor="middle">18</text><text x="388.38" y="49.7" text-anchor="middle">20</text><text x="471.05" y="49.7" text-anchor="middle">22</text><text x="553.72" y="49.7" text-anchor="middle">24</text><text x="636.38" y="49.7" text-anchor="middle">26</text><text x="719.05" y="49.7" text-anchor="middle">28</text><text x="94.5" y="545.20" text-anchor="end">0</text><text x="94.5" y="425.20" text-anchor="end">5</text><text x="94.5" y="305.20" text-anchor="end">10</text><text x="94.5" y="185.20" text-anchor="end">15</text><text x="94.5" y="65.20" text-anchor="end">20</text></g><text x="410.3" y="583.5" text-anchor="middle" font-family="'DejaVu Sans', 'Liberation Sans', sans-serif" font-size="17px" textLength="292.9" lengthAdjust="spacingAndGlyphs">magnitude (bottom:isnt / top:calib)</text><text transform="translate(64.2 300) rotate(-90)" x="0" y="0" text-anchor="middle" font-family="'DejaVu Sans', 'Liberation Sans', sans-serif" font-size="17px" textLength="96.3" lengthAdjust="spacingAndGlyphs">FWHM (pix)</text><text x="410.5" y="29" text-anchor="middle" font-family="'DejaVu Sans', 'Liberation Sans', sans-serif" font-size="20px">FWHM vs magnitudes</text><rect x="398.5" y="70.5" width="312" height="122" fill="#fff" stroke="#000" stroke-width="1.3"/><path d="M408.335 86.5h8.33M412.5 82.335v8.33M436.335 86.5h8.33M440.5 82.335v8.33" stroke="#00bfbf" stroke-width="0.75"/><text x="462" y="93.0" font-family="'DejaVu Sans', 'Liberation Sans', sans-serif" font-size="20px">all sample</text><path d="M408.335 111.335l8.33 8.33M408.335 119.665l8.33 -8.33M436.335 111.335l8.33 8.33M436.335 119.665l8.33 -8.33" stroke="#0000ff" stroke-width="0.75"/><text x="462" y="122.0" font-family="'DejaVu Sans', 'Liberation Sans', sans-serif" font-size="20px">sample for rough FWHM</text><circle cx="412.5" cy="144.5" r="4.5"/><circle cx="440.5" cy="144.5" r="4.5"/><text x="462" y="151.0" font-family="'DejaVu Sans', 'Liberation Sans', sans-serif" font-size="20px">coarse PSF-like sample</text><path d="M412.5 173.5h8.33M429.17 173.5h8.33" stroke="#0000ff" stroke-width="1.39"/><text x="462" y="180.0" font-family="'DejaVu Sans', 'Liberation Sans', sans-serif" font-size="20px">tentative FWHM</text></svg>
</body></html>
